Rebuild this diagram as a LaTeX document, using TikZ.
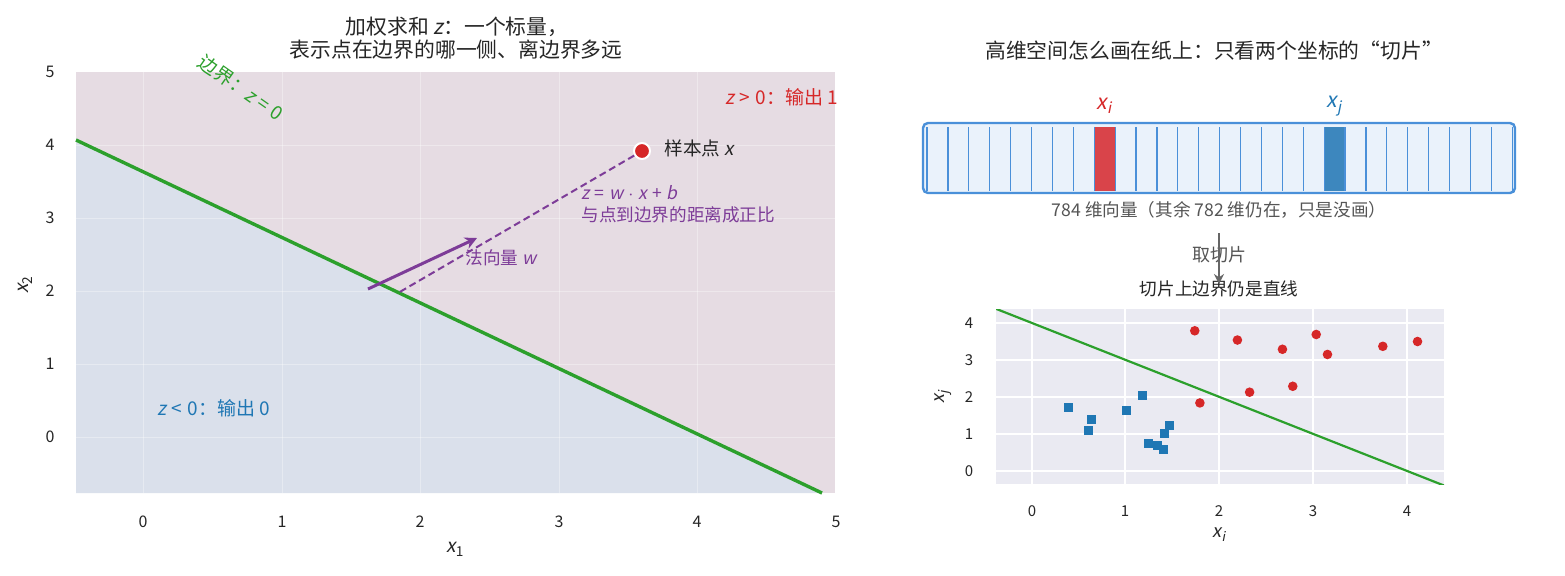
\documentclass[tikz,border=0pt]{standalone}
\usepackage{fontspec}
\setmainfont{Noto Sans CJK SC}
\newfontfamily\itf{Noto Sans CJK SC}[FakeSlant=0.2]
\usetikzlibrary{arrows.meta}
\definecolor{tgreen}{HTML}{2CA02C}
\definecolor{tred}{HTML}{D62728}
\definecolor{tblue}{HTML}{1F77B4}
\definecolor{tpurple}{HTML}{7D3C98}
\definecolor{tdark}{HTML}{262626}
\definecolor{tgray}{HTML}{555555}
\definecolor{bgpink}{RGB}{230,220,227}
\definecolor{bgblue}{RGB}{218,224,235}
\definecolor{seabg}{HTML}{EAEAF2}
\definecolor{vecblue}{HTML}{4A90D9}
\definecolor{vecfill}{HTML}{EAF2FB}
\definecolor{cellred}{RGB}{217,68,74}
\definecolor{cellblue}{RGB}{61,135,190}
\newcommand{\mi}[1]{{\itf #1}}
\newcommand{\msub}[2]{{\itf #1}\raisebox{-0.4ex}{\scalebox{0.72}{\itf #2}}}
\newcommand{\msubu}[2]{{\itf #1}\raisebox{-0.4ex}{\scalebox{0.72}{#2}}}
\newcommand{\msp}{\hspace{0.28em}}
\begin{document}
\begin{tikzpicture}[x=0.5pt,y=-0.5pt,
  txt/.style={inner sep=0pt, text=tdark},
  ttl/.style={txt, font=\fontsize{10.4}{12.5}\selectfont},
  tick/.style={txt, font=\fontsize{8}{10}\selectfont},
  stick/.style={txt, font=\fontsize{7.5}{9}\selectfont},
  lbl/.style={inner sep=0pt, font=\fontsize{8.8}{10.5}\selectfont},
  gridfaint/.style={draw=white, opacity=0.35, line width=0.5pt},
  gridsea/.style={draw=white, line width=0.9pt},
  bline/.style={draw=tgreen, line width=1.7pt},
  sline/.style={draw=tgreen, line width=1.1pt},
  dashline/.style={draw=tpurple, line width=1pt, dash pattern=on 3.5pt off 2pt},
  normarrow/.style={draw=tpurple, line width=1.5pt, -{Stealth[length=6pt,width=6pt]}},
  grayarrow/.style={draw=tgray!90, line width=1pt, -{Stealth[length=5pt,width=5pt]}},
  samp/.style={circle, fill=tred, draw=white, line width=1pt, minimum size=8pt, inner sep=0pt},
  redpt/.style={circle, fill=tred, minimum size=4.8pt, inner sep=0pt},
  bluept/.style={rectangle, fill=tblue, minimum size=4.6pt, inner sep=0pt},
  cellline/.style={draw=vecblue, line width=0.6pt}
]
\useasboundingbox (0,0) rectangle (1565,575);
\fill[white] (0,0) rectangle (1565,575);

% ===================== LEFT PLOT =====================
\fill[bgpink] (76,72) rectangle (835,493);
\coordinate (bA) at (76,140);
\coordinate (bB) at (822,493);
\fill[bgblue] (bA) -- (bB) -- (76,493) -- cycle;
\foreach \x in {143,282,420,559,697} \draw[gridfaint] (\x,72) -- (\x,493);
\foreach \y in {145,218,291,364,437} \draw[gridfaint] (76,\y) -- (835,\y);
\draw[bline] (bA) -- (bB);

% tick labels
\foreach \x/\t in {143/0,282/1,420/2,559/3,697/4,836/5}
  \node[tick] (xt\t) at (\x,522) {\t};
\foreach \y/\t in {437/0,364/1,291/2,218/3,145/4,72/5}
  \node[tick] (yt\t) at (50,\y) {\t};
\node[txt, font=\fontsize{9.5}{11}\selectfont] (xlab1) at (455,549) {\msubu{x}{1}};
\node[txt, font=\fontsize{9.5}{11}\selectfont, rotate=90] (ylab1) at (25,285) {\msubu{x}{2}};

% titles
\node[ttl] (t1a) at (457,27) {加权求和 \mi{z}：一个标量，};
\node[ttl] (t1b) at (456,50) {表示点在边界的哪一侧、离边界多远};

% sample point, dashed distance, normal vector
\coordinate (foot) at (398,293);
\node[samp] (sx) at (642,151) {};
\draw[dashline] (sx) -- (foot);
\coordinate (nA) at (368,289);
\coordinate (nB) at (477,238);
\draw[normarrow] (nA) -- (nB);

\node[lbl, text=tdark, anchor=west, font=\fontsize{9.3}{11}\selectfont] (sxl) at (664,148) {样本点 \mi{x}};
\node[lbl, text=tpurple, anchor=west] (zeq) at (581,193) {\mi{z}\msp=\msp\mi{w}\msp$\cdot$\msp\mi{x}\msp+\msp\mi{b}};
\node[lbl, text=tpurple, anchor=west] (zdist) at (581,215) {与点到边界的距离成正比};
\node[lbl, text=tpurple, anchor=west] (nlab) at (465,258) {法向量 \mi{w}};
\node[lbl, text=tred, anchor=west, font=\fontsize{9.5}{11}\selectfont] (zpos) at (725,97) {\mi{z}\msp>\msp0：输出 1};
\node[lbl, text=tblue, anchor=west, font=\fontsize{9.5}{11}\selectfont] (zneg) at (157,408) {\mi{z}\msp<\msp0：输出 0};
\node[lbl, text=tgreen, rotate=-35, font=\fontsize{9.5}{11}\selectfont] (blab) at (241,88) {边界：\mi{z}\msp=\msp0};

% ===================== RIGHT TOP =====================
\node[ttl] (t2) at (1214,51) {高维空间怎么画在纸上：只看两个坐标的“切片”};
\node[draw=vecblue, fill=vecfill, line width=1.2pt, rounded corners=2.5pt,
      minimum width=296pt, minimum height=35pt, inner sep=0pt] (vec) at (1219,158) {};
\fill[cellred] ({927+20.9*8},127) rectangle ({927+20.9*9},191);
\fill[cellblue] ({927+20.9*19},127) rectangle ({927+20.9*20},191);
\foreach \k in {0,...,28} \draw[cellline] ({927+20.9*\k},127) -- ({927+20.9*\k},191);
\node[inner sep=0pt, text=tred, font=\fontsize{10.5}{12}\selectfont] (xil) at (1104,106) {\msub{x}{i}};
\node[inner sep=0pt, text=tblue, font=\fontsize{10.5}{12}\selectfont] (xjl) at (1334,106) {\msub{x}{j}};
\node[lbl, text=tgray] (cap) at (1219,210) {784 维向量（其余 782 维仍在，只是没画）};

% ===================== RIGHT BOTTOM =====================
\node[lbl, text=tdark] (t3) at (1219,289) {切片上边界仍是直线};

\coordinate (arrA) at (1219,233);
\coordinate (arrB) at (1219,284);
\node[lbl, text=tgray, font=\fontsize{9}{11}\selectfont] (slab) at (1219,255) {取切片};
\draw[grayarrow] (arrA) -- (arrB);

\fill[seabg] (996,309) rectangle (1444,484);
\foreach \x in {1032,1125,1219,1313,1407} \draw[gridsea] (\x,309) -- (\x,484);
\foreach \y in {323,360,397,434,471} \draw[gridsea] (996,\y) -- (1444,\y);
\foreach \x/\t in {1032/0,1125/1,1219/2,1313/3,1407/4}
  \node[stick] (bxt\t) at (\x,511) {\t};
\foreach \y/\t in {471/0,434/1,397/2,360/3,323/4}
  \node[stick] (byt\t) at (969,\y) {\t};
\node[txt, font=\fontsize{9}{10}\selectfont] (xlab2) at (1219,535) {\msub{x}{i}};
\node[txt, font=\fontsize{9}{10}\selectfont, rotate=90] (ylab2) at (943,397) {\msub{x}{j}};

\begin{scope}
  \clip (996,309) rectangle (1444,484);
  \begin{scope}[shift={(1032,471)}, x=46.9pt, y=18.5pt]
    \coordinate (sA) at (-0.5,4.5);
    \coordinate (sB) at (4.5,-0.5);
    \draw[sline] (sA) -- (sB);
  \end{scope}
\end{scope}
\begin{scope}[shift={(1032,471)}, x=46.9pt, y=18.5pt]
  \foreach \px/\py [count=\i] in {1.735/3.79, 2.19/3.54, 2.67/3.29, 3.03/3.69, 3.15/3.15,
      3.74/3.37, 4.11/3.50, 2.32/2.13, 2.78/2.29, 1.79/1.84}
    \node[redpt] (r\i) at (\px,\py) {};
  \foreach \px/\py [count=\i] in {0.39/1.71, 0.635/1.40, 0.60/1.10, 1.006/1.64, 1.18/2.04,
      1.47/1.23, 1.41/1.02, 1.24/0.75, 1.34/0.70, 1.40/0.59}
    \node[bluept] (b\i) at (\px,\py) {};
\end{scope}
\end{tikzpicture}
\end{document}
